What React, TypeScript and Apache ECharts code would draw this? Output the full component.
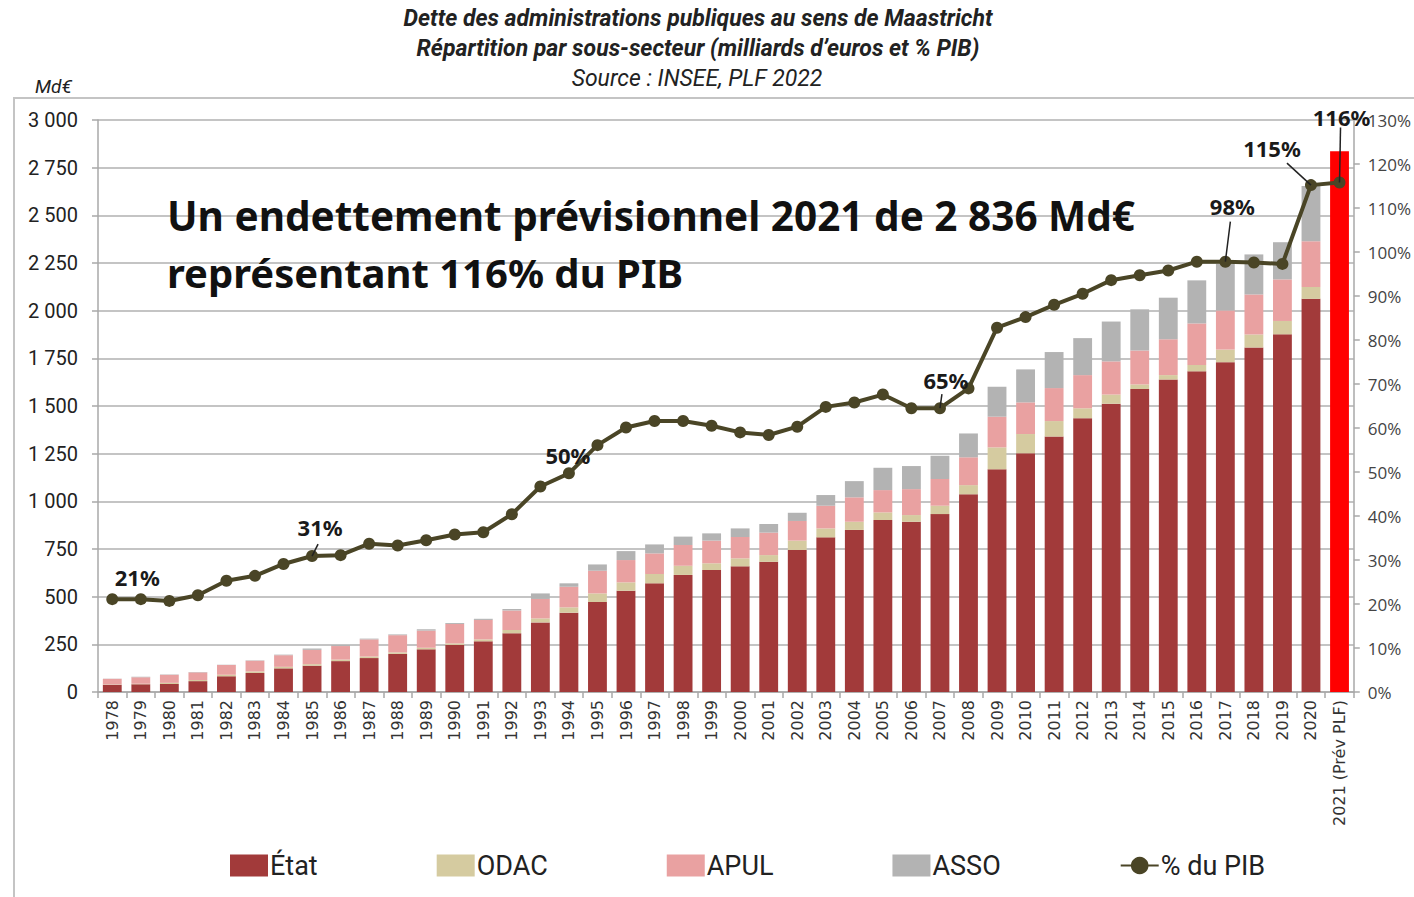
import React, { useEffect, useRef } from "react";
import * as echarts from "echarts";

const categories = [
  "1978", "1979", "1980", "1981", "1982", "1983", "1984", "1985", "1986", "1987",
  "1988", "1989", "1990", "1991", "1992", "1993", "1994", "1995", "1996", "1997",
  "1998", "1999", "2000", "2001", "2002", "2003", "2004", "2005", "2006", "2007",
  "2008", "2009", "2010", "2011", "2012", "2013", "2014", "2015", "2016", "2017",
  "2018", "2019", "2020", "2021 (Prév PLF)",
];

const etat = [
  38, 40, 42, 57, 83, 100, 124, 138, 162, 178,
  200, 224, 247, 266, 308, 365, 416, 472, 531, 570,
  614, 640, 659, 683, 745, 811, 850, 902, 893, 933,
  1037, 1168, 1252, 1340, 1436, 1512, 1589, 1639, 1682, 1730,
  1807, 1876, 2062, 2836,
];

const odac = [
  2, 3, 6, 6, 8, 8, 8, 8, 8, 8,
  8, 8, 8, 10, 17, 21, 28, 45, 44, 49,
  48, 35, 42, 35, 49, 47, 43, 40, 35, 44,
  48, 115, 101, 81, 52, 48, 24, 23, 33, 66,
  68, 70, 62, null,
];

const apul = [
  29, 35, 42, 40, 50, 56, 61, 75, 71, 90,
  90, 90, 102, 102, 102, 102, 108, 119, 117, 108,
  109, 119, 112, 118, 103, 119, 128, 117, 136, 140,
  146, 161, 166, 173, 174, 174, 178, 188, 218, 205,
  210, 218, 240, null,
];

const asso = [
  1, 2, 2, 2, 2, 2, 3, 7, 5, 4,
  4, 7, 5, 6, 8, 29, 18, 33, 47, 47,
  44, 38, 45, 45, 43, 56, 85, 117, 121, 122,
  125, 157, 173, 189, 194, 209, 216, 218, 226, 245,
  210, 195, 290, null,
];

const pctPib = [
  21.1, 21.1, 20.7, 22.0, 25.3, 26.4, 29.1, 30.9, 31.1, 33.7,
  33.3, 34.5, 35.8, 36.3, 40.4, 46.7, 49.7, 56.1, 60.1, 61.6,
  61.6, 60.5, 59.0, 58.4, 60.3, 64.8, 65.8, 67.6, 64.5, 64.5,
  69.0, 82.8, 85.2, 88.0, 90.5, 93.6, 94.7, 95.8, 97.8, 97.8,
  97.6, 97.3, 115.2, 115.8,
];

const leftTicks = { min: 0, max: 3000, interval: 250 };
const rightTicks = { min: 0, max: 130, interval: 10 };

const seriesNames = ["État", "ODAC", "APUL", "ASSO", "% du PIB"];

// annotated points of the % line: category index and label text
const annotIndex = [0, 7, 16, 29, 39, 42, 43];
const annotText = ["21%", "31%", "50%", "65%", "98%", "115%", "116%"];
// label offsets (px) from the point, and leader line start offset (null = no leader)
const annotStyle: { dx: number; dy: number; lead: number[] | null }[] = [
  { dx: 25, dy: -22, lead: null },
  { dx: 8, dy: -29, lead: [6, -12] },
  { dx: -1, dy: -18, lead: null },
  { dx: 6, dy: -28, lead: [2, -14] },
  { dx: 7, dy: -56, lead: [5, -40] },
  { dx: -39, dy: -37, lead: [-24, -22] },
  { dx: 2, dy: -65, lead: [1, -55] },
];

const COLORS = {
  etat: "#A23A3A",
  odac: "#D5CBA0",
  apul: "#E9A1A1",
  asso: "#B3B3B3",
  line: "#4A4526",
  forecast: "#FF0000",
};

const spaceThousands = (v: number) =>
  String(v).replace(/\B(?=(\d{3})+(?!\d))/g, " ");

export default function App() {
  const ref = useRef<HTMLDivElement>(null);

  useEffect(() => {
    if (!ref.current) return;
    const chart = echarts.init(ref.current, null, { renderer: "svg" });
    const last = categories.length - 1;

    const barBase = {
      type: "bar" as const,
      stack: "dette",
      barWidth: "66%",
      yAxisIndex: 0,
      emphasis: { disabled: true },
    };

    chart.setOption({
      animation: false,
      backgroundColor: "#ffffff",
      grid: { left: 98, right: 53, top: 120, bottom: 205, containLabel: false },
      legend: {
        left: 230,
        top: 852,
        padding: 0,
        itemWidth: 38,
        itemHeight: 22,
        itemGap: 119,
        data: [
          { name: seriesNames[0], icon: "rect" },
          { name: seriesNames[1], icon: "rect" },
          { name: seriesNames[2], icon: "rect" },
          { name: seriesNames[3], icon: "rect" },
          { name: seriesNames[4] },
        ],
        textStyle: { fontSize: 27, color: "#222", fontFamily: "Roboto", padding: [0, 0, 0, -3] },
      },
      xAxis: {
        type: "category",
        data: categories,
        boundaryGap: true,
        axisLine: { show: true, lineStyle: { color: "#a8a8a8", width: 1.5 } },
        axisTick: { show: true, length: 6, lineStyle: { color: "#a8a8a8", width: 1.5 } },
        axisLabel: {
          rotate: 90,
          interval: 0,
          margin: 8,
          fontSize: 16,
          color: "#333",
          fontFamily: "DejaVu Sans",
        },
      },
      yAxis: [
        {
          type: "value",
          ...leftTicks,
          position: "left",
          axisLine: { show: true, lineStyle: { color: "#a8a8a8", width: 1.5 } },
          axisTick: { show: true, length: 6, lineStyle: { color: "#a8a8a8", width: 1.5 } },
          splitLine: { show: true, lineStyle: { color: "#b0b0b0", width: 1.5 } },
          axisLabel: {
            fontSize: 20,
            color: "#222",
            fontFamily: "Roboto",
            margin: 20,
            formatter: (v: number) => spaceThousands(v),
          },
        },
        {
          type: "value",
          ...rightTicks,
          position: "right",
          axisLine: { show: true, lineStyle: { color: "#a8a8a8", width: 1.5 } },
          axisTick: { show: true, length: 6, lineStyle: { color: "#a8a8a8", width: 1.5 } },
          splitLine: { show: false },
          axisLabel: {
            fontSize: 17,
            color: "#444",
            fontFamily: "Open Sans",
            margin: 14,
            formatter: (v: number) => v + "%",
          },
        },
      ],
      series: [
        {
          ...barBase,
          name: seriesNames[0],
          itemStyle: { color: COLORS.etat },
          data: etat.map((v, i) =>
            i === last ? { value: v, itemStyle: { color: COLORS.forecast } } : v
          ),
        },
        { ...barBase, name: seriesNames[1], itemStyle: { color: COLORS.odac }, data: odac },
        { ...barBase, name: seriesNames[2], itemStyle: { color: COLORS.apul }, data: apul },
        { ...barBase, name: seriesNames[3], itemStyle: { color: COLORS.asso }, data: asso },
        {
          type: "line",
          name: seriesNames[4],
          yAxisIndex: 1,
          data: pctPib,
          symbol: "circle",
          symbolSize: 12,
          z: 5,
          lineStyle: { color: COLORS.line, width: 4 },
          itemStyle: { color: COLORS.line },
          emphasis: { disabled: true },
        },
      ],
    });

    const graphics: any[] = [
      {
        type: "rect",
        shape: { x: 14, y: 98, width: 1500, height: 900 },
        style: { fill: "none", stroke: "#c4c4c4", lineWidth: 2 },
        silent: true,
        z: -10,
      },
      {
        type: "text",
        x: 698,
        y: 18,
        style: {
          text: "Dette des administrations publiques au sens de Maastricht",
          font: "italic bold 23px Roboto",
          fill: "#222",
          align: "center",
          verticalAlign: "middle",
        },
      },
      {
        type: "text",
        x: 698,
        y: 48,
        style: {
          text: "Répartition par sous-secteur (milliards d’euros et % PIB)",
          font: "italic bold 23px Roboto",
          fill: "#222",
          align: "center",
          verticalAlign: "middle",
        },
      },
      {
        type: "text",
        x: 697,
        y: 78,
        style: {
          text: "Source : INSEE, PLF 2022",
          font: "italic 23px Roboto",
          fill: "#222",
          align: "center",
          verticalAlign: "middle",
        },
      },
      {
        type: "text",
        x: 35,
        y: 86,
        style: {
          text: "Md€",
          font: "italic 19px Roboto",
          fill: "#222",
          align: "left",
          verticalAlign: "middle",
        },
      },
      {
        type: "text",
        x: 167,
        y: 215,
        z: 20,
        style: {
          text: "Un endettement prévisionnel 2021 de 2 836 Md€",
          font: "bold 40.5px 'Noto Sans'",
          fill: "#111",
          align: "left",
          verticalAlign: "middle",
        },
      },
      {
        type: "text",
        x: 167,
        y: 272,
        z: 20,
        style: {
          text: "représentant 116% du PIB",
          font: "bold 40px 'Noto Sans'",
          fill: "#111",
          align: "left",
          verticalAlign: "middle",
        },
      },
    ];

    annotIndex.forEach((idx, k) => {
      const p = chart.convertToPixel({ seriesIndex: 4 }, [idx, pctPib[idx]]) as number[];
      const s = annotStyle[k];
      graphics.push({
        type: "text",
        x: p[0] + s.dx,
        y: p[1] + s.dy,
        z: 30,
        style: {
          text: annotText[k],
          font: "bold 22px 'Noto Sans'",
          fill: "#1a1a1a",
          align: "center",
          verticalAlign: "middle",
        },
      });
      if (s.lead) {
        graphics.push({
          type: "line",
          z: 29,
          shape: { x1: p[0] + s.lead[0], y1: p[1] + s.lead[1], x2: p[0], y2: p[1] },
          style: { stroke: "#222", lineWidth: 1.5 },
        });
      }
    });

    chart.setOption({ graphic: graphics });

    return () => chart.dispose();
  }, []);

  return (
    <div
      ref={ref}
      style={{ position: "absolute", left: 0, top: 0, width: 1414, height: 897, overflow: "hidden" }}
    />
  );
}
